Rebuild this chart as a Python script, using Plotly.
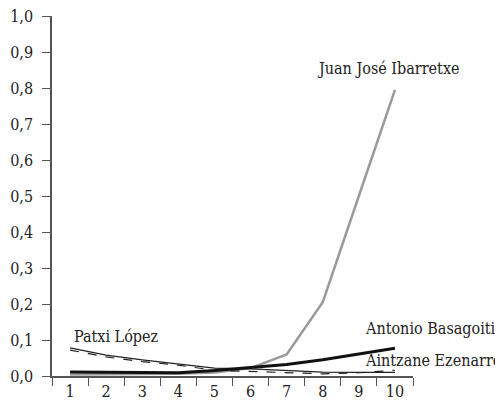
import plotly.graph_objects as go

categories = ["1", "2", "3", "4", "5", "6", "7", "8", "9", "10"]
ibarretxe = [0.004, 0.004, 0.004, 0.006, 0.010, 0.022, 0.060, 0.205, 0.500, 0.795]
basagoiti = [0.011, 0.010, 0.009, 0.009, 0.015, 0.024, 0.032, 0.045, 0.060, 0.077]
lopez = [0.078, 0.058, 0.045, 0.033, 0.022, 0.020, 0.015, 0.011, 0.010, 0.010]
ezenarro = [0.072, 0.053, 0.040, 0.030, 0.016, 0.013, 0.008, 0.006, 0.009, 0.016]
y_ticks = [0.0, 0.1, 0.2, 0.3, 0.4, 0.5, 0.6, 0.7, 0.8, 0.9, 1.0]

font = "DejaVu Serif Condensed, DejaVu Serif, serif"

fig = go.Figure()
fig.add_trace(go.Scatter(x=categories, y=ibarretxe, mode="lines",
                         line=dict(color="#9a9a9a", width=2.5)))
fig.add_trace(go.Scatter(x=categories, y=lopez, mode="lines",
                         line=dict(color="#222222", width=1.2)))
fig.add_trace(go.Scatter(x=categories, y=ezenarro, mode="lines",
                         line=dict(color="#222222", width=1.2, dash="dash")))
fig.add_trace(go.Scatter(x=categories, y=basagoiti, mode="lines",
                         line=dict(color="#111111", width=3)))

# (text, paper x, paper y, anchor)
labels = [
    ("Juan José Ibarretxe", 0.728, 0.854, "left"),
    ("Patxi López", 0.055, 0.111, "left"),
    ("Antonio Basagoiti", 0.861, 0.131, "left"),
    ("Aintzane Ezenarro", 0.861, 0.042, "left"),
]
for text, px, py, anchor in labels:
    fig.add_annotation(text=text, x=px, y=py, xref="paper", yref="paper",
                       showarrow=False, xanchor=anchor, yanchor="middle",
                       font=dict(family=font, size=16, color="#222222"))

# the page body adds an 8px margin, so the figure is sized to fit inside it
fig.update_layout(
    width=495, height=395,
    margin=dict(l=44, r=90, t=8, b=27, autoexpand=False),
    plot_bgcolor="white", paper_bgcolor="white",
    showlegend=False,
    separators=",.",
    font=dict(family=font, size=16, color="#222222"),
)
fig.update_xaxes(type="category", tickson="boundaries", ticks="outside",
                 ticklen=8, tickcolor="#555555", showline=True,
                 linecolor="#555555", linewidth=1.5, showgrid=False,
                 zeroline=False, range=[-0.5, 9.5], automargin=False,
                 ticklabeloverflow="allow")
fig.update_yaxes(range=[0, 1], tickvals=y_ticks, tickformat=".1f",
                 ticks="outside", ticklen=8, tickcolor="#555555",
                 ticklabelstandoff=6, automargin=False,
                 ticklabeloverflow="allow",
                 showline=True, linecolor="#555555", linewidth=1.5,
                 showgrid=False, zeroline=False)

fig.write_html("out.html")
